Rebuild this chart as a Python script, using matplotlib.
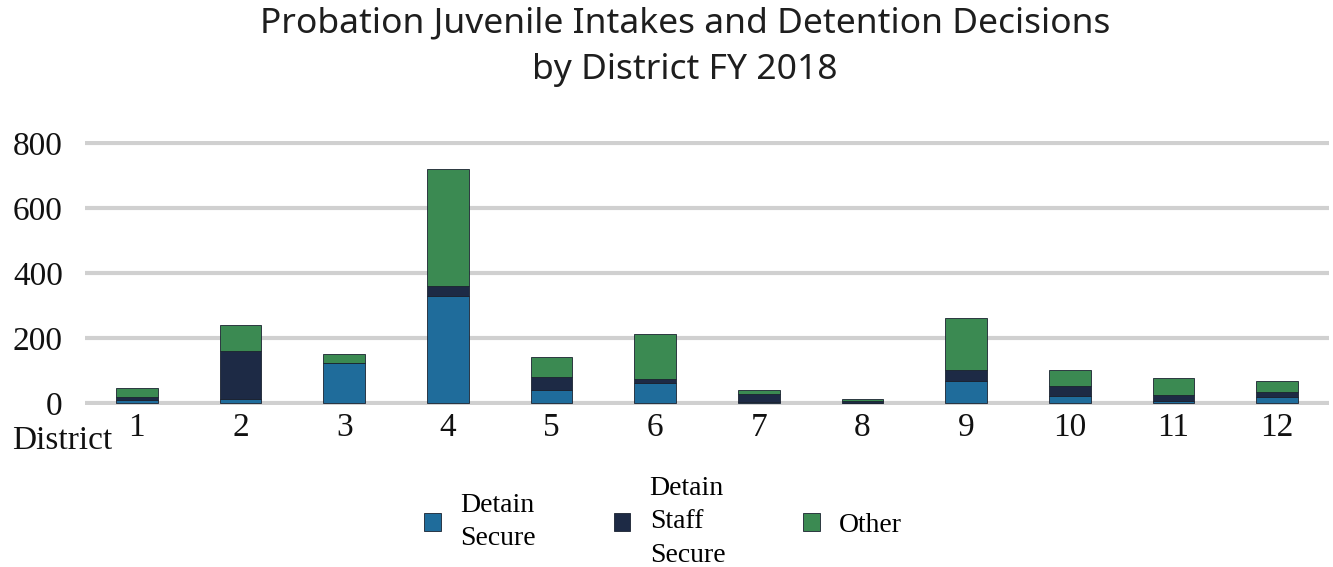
import numpy as np
import matplotlib
matplotlib.use("Agg")
import matplotlib.pyplot as plt

# --- data ---
districts = ["1", "2", "3", "4", "5", "6", "7", "8", "9", "10", "11", "12"]
detain_secure = [8, 12, 124, 330, 39, 62, 2, 1, 67, 23, 5, 18]
detain_staff = [10, 149, 0, 30, 41, 12, 26, 4, 34, 30, 21, 15]
other = [29, 78, 28, 361, 62, 138, 11, 8, 160, 50, 51, 36]

labels = ["Detain\nSecure", "Detain\nStaff\nSecure", "Other"]
colors = ["#1f6c9b", "#1d2a45", "#3b8a52"]

serif = "Liberation Serif"

fig = plt.figure(figsize=(13.33, 5.67), dpi=100)
ax = fig.add_axes([85 / 1333, 1 - 404.6 / 567, (1329 - 85) / 1333, (404.6 - 141.4) / 567])

x = np.arange(len(districts))
w = 0.4
s1 = np.array(detain_secure)
s2 = np.array(detain_staff)
s3 = np.array(other)

ax.bar(x, s1, w, color=colors[0], edgecolor="#1a2230", linewidth=0.6, label=labels[0], zorder=3)
ax.bar(x, s2, w, bottom=s1, color=colors[1], edgecolor="#1a2230", linewidth=0.6, label=labels[1], zorder=3)
ax.bar(x, s3, w, bottom=s1 + s2, color=colors[2], edgecolor="#1a2230", linewidth=0.6, label=labels[2], zorder=3)

ax.set_xlim(-0.5, 11.5)
ax.set_ylim(-5, 805)
ax.set_yticks([0, 200, 400, 600, 800])
ax.set_xticks(x)
ax.set_xticklabels(districts)
for sp in ax.spines.values():
    sp.set_visible(False)
ax.tick_params(length=0, labelsize=24)
ax.tick_params(axis="x", pad=6)
ax.tick_params(axis="y", pad=16)
for lab in ax.get_xticklabels() + ax.get_yticklabels():
    lab.set_fontfamily(serif)
    lab.set_color("#111111")
ax.yaxis.grid(True, color="#d0d0d0", linewidth=3, zorder=0)
ax.set_axisbelow(True)

fig.text(12 / 1333, 1 - 441 / 567, "District", fontsize=24, fontfamily=serif,
         color="#111111", ha="left", va="center")

# title, two lines placed separately
fig.text(685 / 1333, 1 - 23 / 567, "Probation Juvenile Intakes and Detention Decisions",
         fontsize=25.5, fontfamily="Noto Sans", fontweight="medium", color="#1e1e1e",
         ha="center", va="center")
fig.text(685 / 1333, 1 - 70 / 567, "by District FY 2018",
         fontsize=25.5, fontfamily="Noto Sans", fontweight="medium", color="#1e1e1e",
         ha="center", va="center")

leg = fig.legend(loc="center left", bbox_to_anchor=(424 / 1333, 1 - 522 / 567), ncol=3,
                 frameon=False, prop={"family": serif, "size": 20},
                 handlelength=0.6, handleheight=0.6, columnspacing=2.8,
                 handletextpad=0.7, borderpad=0, borderaxespad=0, labelspacing=0.3)
for t in leg.get_texts():
    t.set_linespacing(1.45)

fig.savefig("out.png", dpi=100)
